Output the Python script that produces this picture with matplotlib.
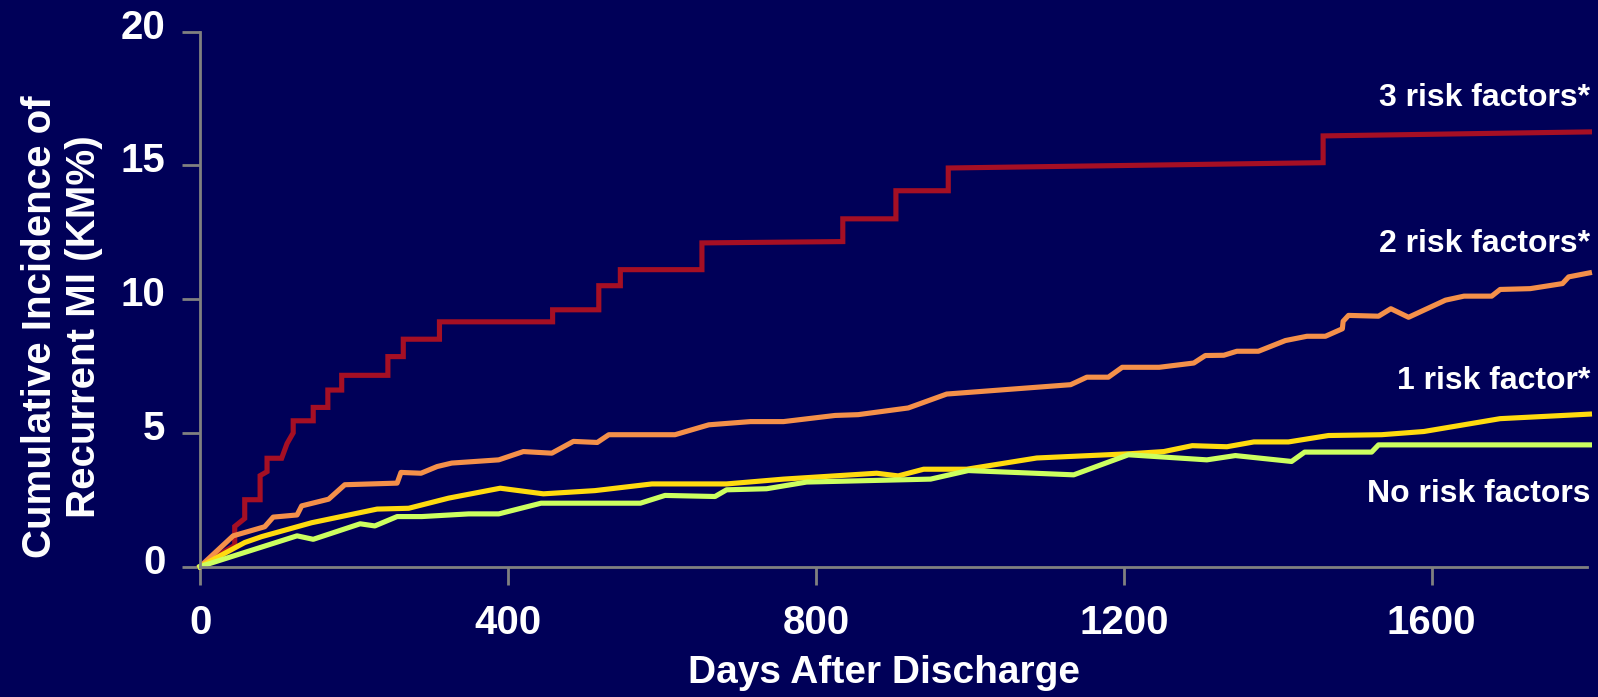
import matplotlib
matplotlib.use("Agg")
import matplotlib.pyplot as plt
import matplotlib.transforms as mtransforms

plt.rcParams['font.family'] = ['Liberation Sans', 'DejaVu Sans']
plt.rcParams['font.weight'] = 'bold'

# Kaplan-Meier cumulative incidence (%) by number of risk factors
days_3rf = [0, 45, 45, 58, 58, 78, 78, 87, 87, 106, 113, 121, 121, 147, 147, 166, 166,
            184, 184, 244, 244, 264, 264, 311, 311, 458, 458, 518, 518, 546, 546, 652,
            652, 835, 835, 904, 904, 972, 972, 1459, 1459, 1805]
km_3rf = [0, 0.8, 1.5, 1.8, 2.5, 2.5, 3.4, 3.55, 4.05, 4.05, 4.6, 5.0, 5.45, 5.45, 5.95,
          5.95, 6.6, 6.6, 7.15, 7.15, 7.85, 7.85, 8.5, 8.5, 9.15, 9.15, 9.6, 9.6, 10.5,
          10.5, 11.1, 11.1, 12.1, 12.15, 13.0, 13.0, 14.05, 14.05, 14.9, 15.1, 16.1, 16.25]

days_2rf = [0, 43, 84, 95, 126, 132, 167, 188, 256, 261, 287, 308, 327, 388, 420, 457,
            485, 516, 531, 617, 661, 715, 758, 825, 855, 920, 970, 1131, 1152, 1180,
            1198, 1246, 1291, 1306, 1330, 1347, 1375, 1410, 1438, 1462, 1484, 1485,
            1492, 1531, 1547, 1570, 1618, 1642, 1678, 1689, 1728, 1770, 1778, 1805]
km_2rf = [0, 1.15, 1.49, 1.85, 1.93, 2.27, 2.52, 3.06, 3.12, 3.52, 3.49, 3.74, 3.87,
          3.99, 4.30, 4.24, 4.68, 4.64, 4.93, 4.93, 5.30, 5.42, 5.42, 5.65, 5.68, 5.93,
          6.45, 6.80, 7.08, 7.08, 7.45, 7.45, 7.61, 7.89, 7.90, 8.05, 8.05, 8.45, 8.61,
          8.61, 8.89, 9.17, 9.39, 9.36, 9.64, 9.32, 9.96, 10.11, 10.11, 10.36, 10.39,
          10.58, 10.83, 10.98]

days_1rf = [0, 58, 80, 145, 230, 271, 323, 390, 446, 513, 587, 684, 758, 879, 907, 940,
            996, 1087, 1209, 1252, 1289, 1334, 1369, 1414, 1466, 1535, 1590, 1689, 1805]
km_1rf = [0, 0.90, 1.12, 1.64, 2.15, 2.18, 2.56, 2.93, 2.72, 2.84, 3.09, 3.09, 3.27,
          3.49, 3.39, 3.64, 3.64, 4.06, 4.22, 4.30, 4.52, 4.48, 4.66, 4.66, 4.90, 4.93,
          5.05, 5.53, 5.70]

days_0rf = [0, 126, 147, 208, 227, 256, 288, 349, 388, 443, 572, 604, 669, 684, 736,
            788, 949, 998, 1135, 1206, 1308, 1345, 1418, 1435, 1522, 1531, 1805]
km_0rf = [0, 1.15, 1.02, 1.60, 1.52, 1.87, 1.87, 1.97, 1.97, 2.37, 2.37, 2.66, 2.62,
          2.87, 2.91, 3.16, 3.27, 3.59, 3.43, 4.18, 3.99, 4.15, 3.93, 4.28, 4.28, 4.55,
          4.55]

x_ticks = [0, 400, 800, 1200, 1600]
y_ticks = [0, 5, 10, 15, 20]

bg = '#000058'
axis_grey = '#808080'

fig = plt.figure(figsize=(15.98, 6.97), dpi=100, facecolor=bg)
ax = fig.add_axes([0.1252, 0.1871, 0.868, 0.7676], facecolor=bg)

lw = 3.7
ax.plot(days_3rf, km_3rf, color='#A50F24', lw=lw, clip_on=False, solid_joinstyle='miter')
ax.plot(days_2rf, km_2rf, color='#F4904A', lw=lw, clip_on=False)
ax.plot(days_1rf, km_1rf, color='#FFDB0F', lw=lw, clip_on=False)
ax.plot(days_0rf, km_0rf, color='#CCFF60', lw=lw, clip_on=False)

ax.set_xlim(0, 1802)
ax.set_ylim(0, 20)
ax.set_xticks(x_ticks)
ax.set_yticks(y_ticks)

for side in ['top', 'right']:
    ax.spines[side].set_visible(False)
for side in ['left', 'bottom']:
    ax.spines[side].set_color(axis_grey)
    ax.spines[side].set_linewidth(2.0)

ax.tick_params(axis='both', direction='out', length=13, width=2.0, color=axis_grey,
               labelcolor='white', labelsize=29)
ax.tick_params(axis='y', pad=12)
ax.tick_params(axis='x', pad=14)

# nudge the y tick labels up a little
shift = mtransforms.ScaledTranslation(0, 8 / 100, fig.dpi_scale_trans)
for lbl in ax.get_yticklabels():
    lbl.set_transform(lbl.get_transform() + shift)

fig.text(0.0385, 0.531, 'Cumulative Incidence of\nRecurrent MI (KM%)', rotation=90,
         ha='center', va='center', color='white', fontsize=29, fontweight='bold',
         linespacing=1.2)
fig.text(0.553, 0.034, 'Days After Discharge', ha='center', va='center',
         color='white', fontsize=28, fontweight='bold')

labels = [('3 risk factors*', 17.22), ('2 risk factors*', 11.75),
          ('1 risk factor*', 6.65), ('No risk factors', 2.43)]
for text, y in labels:
    ax.text(1806, y, text, ha='right', va='baseline', color='white',
            fontsize=23, fontweight='bold', clip_on=False)

fig.savefig('out.png', dpi=100, facecolor=bg)
